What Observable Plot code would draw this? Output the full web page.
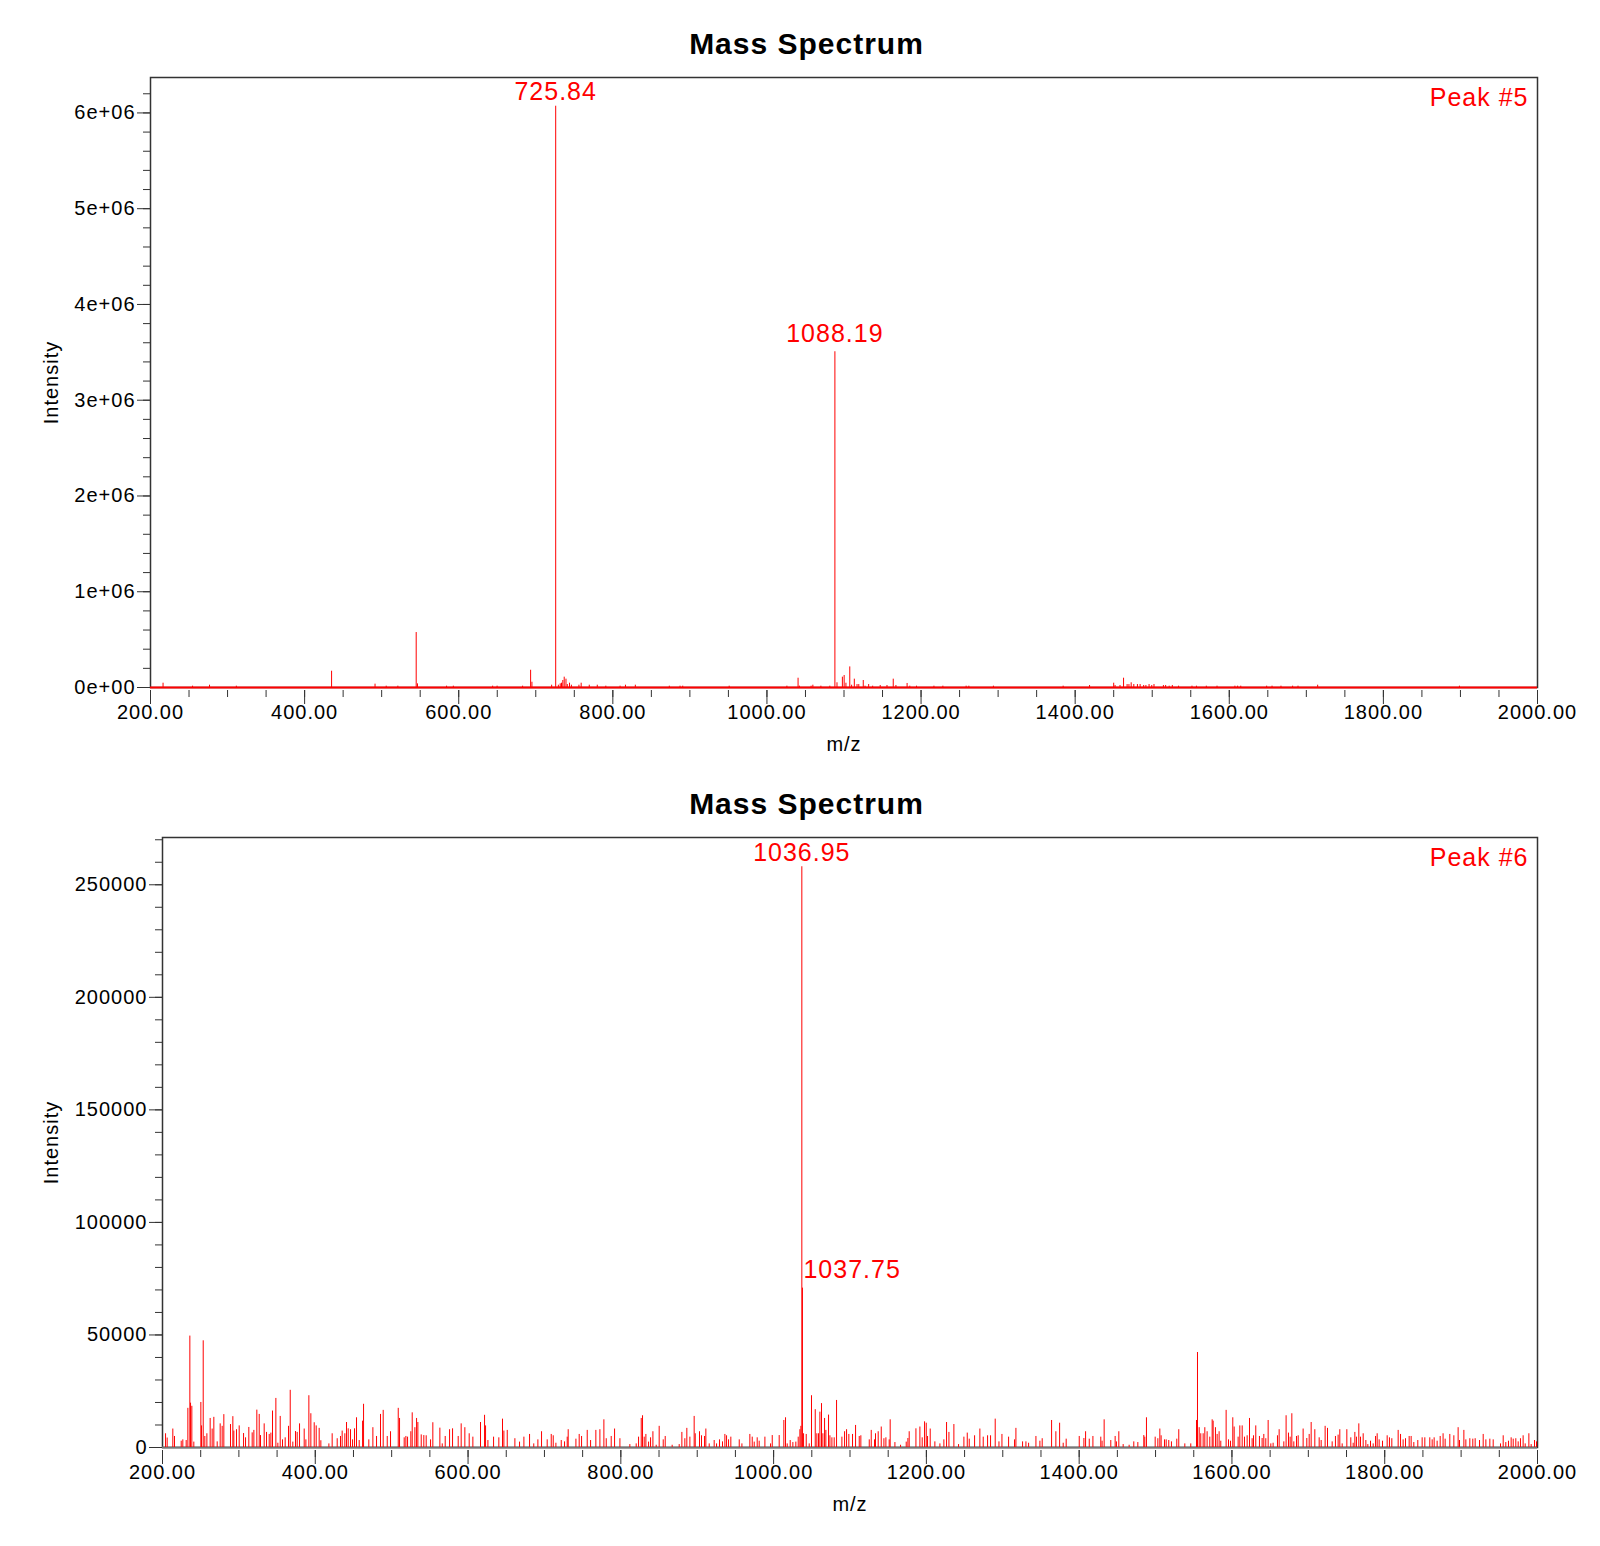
<!DOCTYPE html>
<html>
<head>
<meta charset="utf-8">
<script src="https://cdn.jsdelivr.net/npm/d3@7"></script>
<script src="https://cdn.jsdelivr.net/npm/@observablehq/plot@0.6"></script>
<style>
  body { margin: 0; background: #fff; }
  svg { display: block; }
  g[fill="red"] text { letter-spacing: 1px; }
  g[font-weight="bold"] text { letter-spacing: 1px; }
</style>
</head>
<body>
<div id="chart"></div>
<script>
// ---------- Shared axis ticks ----------
const xMajorTicks = [200, 400, 600, 800, 1000, 1200, 1400, 1600, 1800, 2000];
const xMinorTicks = d3.range(200, 2001, 50);

// ---------- Panel 1: Peak #5 ----------
const title5 = "Mass Spectrum";
const tag5 = "Peak #5";
const yMajor5 = [0, 1e6, 2e6, 3e6, 4e6, 5e6, 6e6];
const yMinor5 = d3.range(0, 6.3e6, 2e5);
const labelMz5 = [725.84, 1088.19];
const mz5 = [216.3, 254.6, 276.6, 311.4, 435.0, 491.4, 505.9, 521.0, 544.8, 546.5, 584.2, 593.0, 644.0, 649.8, 682.9, 693.3, 695.0, 720.6, 725.84, 729.3, 731.7, 733.4, 735.1, 736.9, 739.2, 740.9, 743.8, 746.2, 756.0, 758.9, 769.4, 779.8, 790.9, 809.4, 816.4, 829.2, 873.3, 887.2, 890.7, 951.0, 1025.9, 1040.4, 1042.2, 1057.3, 1059.6, 1070.0, 1081.6, 1088.19, 1090.9, 1097.9, 1100.2, 1102.5, 1107.5, 1109.9, 1113.4, 1116.9, 1119.2, 1125.0, 1127.3, 1132.0, 1137.2, 1147.0, 1155.8, 1163.9, 1167.4, 1181.9, 1185.4, 1194.1, 1216.7, 1228.3, 1258.5, 1262.0, 1293.9, 1384.4, 1418.7, 1450.0, 1451.8, 1458.2, 1462.8, 1467.4, 1469.8, 1472.7, 1476.1, 1480.8, 1484.3, 1488.9, 1491.8, 1495.9, 1499.4, 1502.3, 1514.5, 1517.4, 1522.0, 1526.1, 1534.2, 1551.6, 1557.4, 1570.2, 1584.1, 1607.3, 1610.8, 1614.9, 1648.5, 1655.5, 1667.1, 1682.2, 1689.2, 1714.7, 1898.7];
const int5 = [45000, 14000, 24000, 14000, 170000, 35000, 14000, 14000, 574000, 38000, 14000, 14000, 14000, 14000, 14000, 180000, 55000, 24000, 6070000, 24000, 38000, 45000, 73000, 108000, 87000, 31000, 45000, 24000, 24000, 45000, 24000, 24000, 14000, 14000, 24000, 24000, 14000, 14000, 14000, 14000, 14000, 97000, 14000, 14000, 24000, 14000, 14000, 3506000, 49000, 108000, 125000, 45000, 215000, 24000, 87000, 31000, 31000, 73000, 14000, 31000, 14000, 21000, 21000, 87000, 21000, 42000, 14000, 14000, 14000, 14000, 14000, 14000, 14000, 14000, 21000, 45000, 21000, 21000, 97000, 31000, 31000, 49000, 31000, 31000, 31000, 21000, 21000, 31000, 21000, 31000, 21000, 21000, 14000, 21000, 14000, 14000, 14000, 14000, 14000, 14000, 14000, 14000, 14000, 14000, 14000, 14000, 14000, 24000, 14000];

// ---------- Panel 2: Peak #6 ----------
const title6 = "Mass Spectrum";
const tag6 = "Peak #6";
const yMajor6 = [0, 50000, 100000, 150000, 200000, 250000];
const yMinor6 = d3.range(0, 270001, 10000);
const labelMz6 = [1036.95, 1037.75];
const mz6 = [204.0, 206.1, 213.5, 215.7, 224.5, 226.6, 231.0, 233.2, 235.8, 236.7, 238.4, 241.0, 250.2, 251.1, 253.3, 255.4, 258.1, 262.4, 265.0, 267.2, 271.6, 275.5, 278.1, 280.3, 289.0, 292.1, 293.4, 296.9, 300.4, 306.1, 308.7, 313.0, 317.4, 319.6, 323.5, 326.6, 328.3, 333.1, 336.2, 339.7, 341.9, 344.0, 348.4, 351.0, 354.1, 357.1, 360.6, 365.0, 367.2, 370.6, 374.1, 376.3, 379.4, 385.5, 387.7, 391.6, 394.2, 398.6, 401.2, 405.1, 407.3, 417.8, 422.1, 428.7, 433.0, 435.2, 438.7, 440.9, 443.1, 446.1, 448.8, 451.4, 454.0, 457.5, 461.9, 463.2, 470.1, 475.4, 480.2, 485.4, 488.9, 494.2, 498.5, 508.6, 510.3, 516.4, 518.6, 520.8, 525.1, 526.9, 530.4, 532.6, 534.3, 538.7, 542.1, 545.2, 550.9, 553.9, 563.1, 566.2, 570.1, 575.8, 579.7, 587.1, 591.0, 595.8, 601.5, 606.3, 616.3, 621.6, 622.9, 626.0, 633.4, 640.3, 645.1, 646.9, 651.3, 661.3, 667.4, 673.1, 680.5, 686.0, 691.4, 696.2, 703.6, 708.9, 711.5, 715.0, 722.0, 726.3, 729.8, 731.1, 741.2, 745.5, 748.6, 756.0, 760.4, 767.3, 772.6, 777.8, 780.9, 787.4, 791.8, 798.8,
  811.8, 820.1, 823.2, 826.7, 828.4, 830.6, 832.8, 836.3, 838.9, 842.0, 846.3, 850.2, 855.5, 858.1, 867.2, 876.4, 879.9, 883.8, 886.4, 890.4, 896.0, 897.4, 903.0, 905.6, 909.6, 911.3, 915.7, 922.2, 925.3, 929.2, 933.1, 936.2, 938.4, 941.0, 944.0, 955.0, 958.5, 968.9, 972.0, 974.6, 978.5, 981.1, 988.6, 996.0, 998.2, 1007.3, 1013.4, 1015.6, 1017.8, 1021.7, 1025.2, 1029.1, 1032.2, 1034.4, 1035.7, 1036.95, 1037.75, 1039.2, 1042.7, 1046.6, 1049.6, 1054.5, 1056.6, 1058.8, 1060.6, 1062.7, 1064.5, 1066.7, 1068.4, 1071.9, 1073.7, 1076.3, 1079.3, 1082.4, 1089.4, 1092.9, 1095.5, 1098.5, 1103.3, 1107.3, 1112.1, 1114.2, 1125.2, 1127.8, 1132.1, 1133.4, 1136.9, 1140.9, 1144.4, 1147.0, 1151.3, 1152.6, 1158.8, 1166.2, 1173.6, 1175.8, 1177.5, 1186.3, 1191.5, 1194.5, 1197.6, 1199.8, 1201.5, 1205.0, 1211.1, 1217.7, 1222.9, 1226.4, 1229.5, 1236.0, 1242.1, 1249.1, 1253.5, 1256.1, 1263.1, 1270.0, 1274.4, 1280.1, 1284.0, 1290.1, 1295.0, 1298.9, 1307.6, 1315.4, 1317.2, 1325.9, 1330.3, 1333.8, 1343.4, 1348.6, 1351.6, 1363.9, 1369.5, 1374.4, 1379.1, 1383.0, 1400.1, 1406.2, 1408.4, 1413.2, 1418.0,
  1428.3, 1430.0, 1432.7, 1441.4, 1447.1, 1448.8, 1451.9, 1457.6, 1465.4, 1471.5, 1476.8, 1484.6, 1485.9, 1488.1, 1499.5, 1503.0, 1505.6, 1507.3, 1511.7, 1513.9, 1517.3, 1520.8, 1527.8, 1530.4, 1538.3, 1546.1, 1553.6, 1554.9, 1557.1, 1559.2, 1562.3, 1564.5, 1567.5, 1571.0, 1574.1, 1575.4, 1578.4, 1580.6, 1583.2, 1585.4, 1592.4, 1595.5, 1598.1, 1601.1, 1602.9, 1608.1, 1610.3, 1613.4, 1616.4, 1619.9, 1623.0, 1626.4, 1628.2, 1631.2, 1636.0, 1639.5, 1641.7, 1644.3, 1647.4, 1650.9, 1653.9, 1659.6, 1661.8, 1667.9, 1670.9, 1674.0, 1676.2, 1678.4, 1681.0, 1684.5, 1686.7, 1693.2, 1698.0, 1701.1, 1703.7, 1708.5, 1714.2, 1716.8, 1722.0, 1725.1, 1731.2, 1735.5, 1739.0, 1741.2, 1744.3, 1750.4, 1755.6, 1758.7, 1760.9, 1763.0, 1766.1, 1768.3, 1771.8, 1775.3, 1777.9, 1781.4, 1784.9, 1788.0, 1790.1, 1792.7, 1797.1, 1803.2, 1806.2, 1809.3, 1817.6, 1820.7, 1824.1, 1827.2, 1832.0, 1834.6, 1838.1, 1843.3, 1849.0, 1852.5, 1859.0, 1862.1, 1864.7, 1868.6, 1872.6, 1876.4, 1879.1, 1885.2, 1890.5, 1896.1, 1897.9, 1903.6, 1906.2, 1911.4, 1915.3, 1918.4, 1924.1, 1928.9, 1932.4, 1937.6, 1942.0, 1951.6, 1955.1, 1958.5, 1962.0, 1965.5, 1968.2, 1971.6, 1974.7, 1977.7, 1981.2, 1983.9, 1988.7, 1991.7, 1996.1, 1998.7];
const int6 = [6100, 4200, 8200, 4900, 2800, 3400, 3100, 17400, 49500, 19700, 18300, 2400, 20000, 9600, 47400, 4900, 6100, 12900, 8200, 13400, 2500, 10500, 9400, 14600, 10200, 13700, 7300, 7900, 9600, 6200, 4300, 8900, 6500, 7600, 16600, 14700, 5300, 10500, 6700, 5800, 6400, 16200, 21800, 1900, 13800, 3400, 4300, 9400, 25400, 2400, 7100, 6700, 10500, 8200, 3400, 23000, 15000, 11000, 9600, 8500, 3000, 1600, 6100, 3900, 4900, 7300, 6100, 11100, 8300, 7900, 3400, 8300, 13200, 3100, 11700, 19200, 3400, 8800, 4900, 14700, 16500, 4900, 7000, 17400, 12900, 4300, 4900, 4600, 7000, 15400, 8800, 12900, 11100, 5600, 5300, 5200, 3400, 11000, 8600, 1600, 4900, 7900, 8300, 4900, 10500, 8800, 6100, 4600, 11100, 14300, 9600, 3100, 4600, 4300, 12600, 7300, 7600, 3900, 2400, 4600, 5800, 1600, 3400, 7000, 3400, 5800, 5200, 1900, 3100, 2500, 4600, 7900, 3700, 5800, 4900, 7600, 3100, 7600, 7900, 12300, 3900, 4900, 8200, 3900,
  1300, 1600, 4600, 12900, 14100, 4600, 5800, 2400, 4300, 7000, 1000, 9400, 3400, 4900, 1000, 1300, 6700, 3900, 8500, 4600, 13800, 6100, 7000, 5200, 4900, 8200, 1600, 3100, 1600, 3400, 2500, 5800, 5200, 3400, 4600, 3400, 1600, 5800, 4600, 2400, 4300, 2800, 4600, 1600, 5300, 5300, 12000, 13200, 1600, 3100, 2200, 2400, 4600, 7900, 9400, 258000, 70800, 6100, 5800, 1600, 23000, 16800, 6100, 6100, 15700, 19500, 6100, 12900, 7600, 14400, 5200, 4300, 4300, 20900, 4600, 7000, 7900, 5800, 5800, 9800, 4900, 5200, 3400, 7600, 3400, 6100, 7000, 9100, 3900, 4300, 3400, 12300, 2200, 1000, 2400, 4000, 7000, 8300, 9100, 4300, 11400, 10800, 4900, 8200, 2500, 1600, 3400, 11100, 6700, 10200, 1300, 4600, 6400, 3700, 5200, 8200, 4600, 5200, 5200, 12600, 2500, 5800, 4600, 3400, 8500, 2500, 2500, 1900, 4900, 2800, 3900, 12000, 7000, 10800, 1900, 3700, 4900, 4000, 7000, 3700, 4900,
  4600, 2800, 12300, 3100, 4900, 2500, 7000, 1300, 1000, 2500, 2200, 5300, 4600, 13200, 4600, 3900, 8200, 5200, 3400, 3400, 3100, 2500, 3700, 7900, 1600, 1600, 12000, 42200, 8800, 6100, 6100, 8800, 7000, 4600, 12300, 11700, 8800, 5800, 7000, 2800, 16500, 3400, 2800, 13200, 9100, 4600, 9600, 9600, 4600, 5200, 12900, 3900, 5200, 9600, 4900, 4000, 5800, 3900, 12000, 1600, 1900, 5200, 7900, 2500, 14100, 6400, 4600, 15000, 2500, 4900, 5200, 8200, 4000, 5800, 11100, 7900, 4300, 3100, 9400, 8500, 2500, 4900, 5500, 7900, 1600, 7900, 4300, 1900, 6700, 4600, 10500, 4600, 6100, 3100, 1300, 2800, 1600, 4900, 6100, 3400, 2800, 5200, 4300, 3900, 7600, 5800, 3400, 3900, 4900, 4900, 2200, 3100, 4300, 4300, 4300, 3400, 4300, 2800, 4900, 6100, 3700, 5800, 5200, 8800, 3100, 7600, 3400, 3900, 3700, 3900, 3100, 5800, 3400, 3700, 3400, 1600, 5200, 2200, 2800, 4300, 3700, 3900, 2500, 3900, 5200, 1600, 6100, 1300, 3100, 2500];

// ---------- Helpers ----------
const fmtE = d => {
  if (d === 0) return "0e+00";
  const e = Math.floor(Math.log10(d) + 1e-9);
  const m = Math.round(d / 10 ** e);
  return `${m}e+${String(e).padStart(2, "0")}`;
};
const fmtX = d3.format(".2f");
const rows = (mz, it) => mz.map((m, k) => ({mz: m, i: it[k]}));
const labelRows = (mz, it, labels) => labels.map(l => {
  const k = mz.indexOf(l);
  return {mz: l, i: it[k], t: l.toFixed(2)};
});

const baseStyle = {
  fontFamily: "'Liberation Sans', Arial, sans-serif",
  fontSize: "20px",
  letterSpacing: "1px",
  color: "black",
  background: "white",
  overflow: "visible"
};

function panel({mz, it, yMajor, yMinor, yMax, yFmt, labels, tag, title, marginTop, marginBottom, marginLeft, titleX, baseline, labelOpts}) {
  const spec = rows(mz, it);
  const lab = labelRows(mz, it, labels);
  return Plot.plot({
    width: 1600,
    height: 773,
    marginTop, marginBottom, marginLeft, marginRight: 63,
    style: baseStyle,
    x: {domain: [200, 2000]},
    y: {domain: [0, yMax]},
    marks: [
      Plot.frame({stroke: "#333", strokeWidth: 1.5}),
      Plot.axisY(yMinor, {tickSize: 7, tickFormat: () => "", label: null, stroke: "#333"}),
      Plot.axisY(yMajor, {tickSize: 13, tickPadding: 2, tickFormat: yFmt, label: null, stroke: "#333"}),
      Plot.axisX(xMinorTicks, {tickSize: 7, tickFormat: () => "", label: null, dy: 3, stroke: "#333"}),
      Plot.axisX(xMajorTicks, {tickSize: 14, tickPadding: 0, tickFormat: fmtX, label: null, dy: 3, stroke: "#333"}),
      Plot.ruleY([0], {stroke: baseline, strokeWidth: 2}),
      Plot.ruleX(spec, {x: "mz", y1: 0, y2: "i", stroke: "red", strokeWidth: 1}),
      ...labelOpts.map((o, k) => Plot.text([lab[k]], {x: "mz", y: "i", text: "t", fill: "red", fontSize: 25, ...o})),
      Plot.text([tag], {frameAnchor: "top-right", textAnchor: "end", lineAnchor: "middle", dx: -9, dy: 20, fill: "red", fontSize: 25}),
      Plot.text([title], {frameAnchor: "top-left", textAnchor: "middle", lineAnchor: "middle", dx: titleX, dy: -33, fontSize: 30, fontWeight: "bold"}),
      Plot.text(["Intensity"], {frameAnchor: "left", textAnchor: "middle", lineAnchor: "middle", rotate: -90, dx: 51 - marginLeft, fontSize: 20}),
      Plot.text(["m/z"], {frameAnchor: "bottom", textAnchor: "middle", lineAnchor: "middle", dy: 57, fontSize: 20})
    ]
  });
}

const chart = document.getElementById("chart");
chart.append(panel({
  mz: mz5, it: int5, yMajor: yMajor5, yMinor: yMinor5, yMax: 6.37e6, yFmt: fmtE,
  labels: labelMz5, tag: tag5, title: title5,
  marginTop: 77, marginBottom: 86, marginLeft: 150, titleX: 806 - 150, baseline: "red",
  labelOpts: [
    {textAnchor: "middle", lineAnchor: "bottom", dy: -6},
    {textAnchor: "middle", lineAnchor: "bottom", dy: -10}
  ]
}));
chart.append(panel({
  mz: mz6, it: int6, yMajor: yMajor6, yMinor: yMinor6, yMax: 271000, yFmt: d3.format("d"),
  labels: labelMz6, tag: tag6, title: title6,
  marginTop: 64, marginBottom: 99, marginLeft: 162, titleX: 806 - 162, baseline: "#777",
  labelOpts: [
    {textAnchor: "middle", lineAnchor: "bottom", dy: -6},
    {textAnchor: "start", lineAnchor: "bottom", dx: 1, dy: -10}
  ]
}));
</script>
</body>
</html>
